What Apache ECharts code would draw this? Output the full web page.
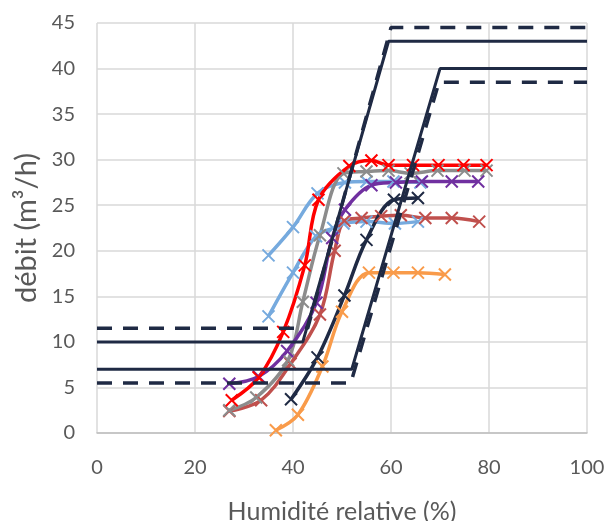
<!DOCTYPE html>
<html><head><meta charset="utf-8">
<script src="https://cdn.jsdelivr.net/npm/echarts@6/dist/echarts.min.js"></script>
<style>html,body{margin:0;padding:0;background:#fff}#c{width:607px;height:521px}</style>
</head><body><div id="c"></div>
<script>
// Axis ticks
const xTicks = [0, 20, 40, 60, 80, 100];
const yTicks = [0, 5, 10, 15, 20, 25, 30, 35, 40, 45];

// Measured series (humidité %, débit m3/h)
const redHum = [27.5, 33, 38, 42.4, 45.2, 51.5, 56, 59.5, 64.5, 69.7, 74.8, 79.5];
const redFlow = [3.6, 6.1, 11.1, 18.4, 25.6, 29.3, 29.9, 29.4, 29.4, 29.4, 29.4, 29.4];

const grayHum = [27, 32.5, 39, 42, 45.5, 50.3, 55, 59.5, 64, 69.5, 75, 79.5];
const grayFlow = [2.5, 3.9, 8, 14.4, 21.7, 28.5, 28.7, 28.8, 28.5, 28.8, 28.8, 28.8];

const brownHum = [27, 33.5, 39.5, 45.5, 48.5, 50.5, 54, 58, 62, 67, 72.4, 78];
const brownFlow = [2.4, 3.6, 7.6, 13, 20, 23.3, 23.6, 23.8, 23.9, 23.6, 23.6, 23.2];

const purpleHum = [27, 33, 38.8, 44.8, 48, 50.6, 56, 61, 66.3, 72.4, 77.8];
const purpleFlow = [5.4, 6.2, 9, 14.3, 21.4, 24.5, 27.2, 27.5, 27.6, 27.6, 27.6];

const blue1Hum = [35, 40, 45, 50.6, 55, 60.5, 66];
const blue1Flow = [19.5, 22.6, 26.3, 27.5, 27.6, 27.6, 27.5];

const blue2Hum = [35, 40, 44.7, 48.2, 50.3, 55, 60.8, 65.5];
const blue2Flow = [12.8, 17.6, 21.6, 22.5, 23, 23.2, 23, 23.2];

const navyHum = [39.6, 45, 50.5, 55, 60.6, 65.5];
const navyFlow = [3.7, 8.3, 15.1, 21.2, 25.6, 25.8];

const orangeHum = [36.5, 41, 46, 50, 55.5, 60.5, 65.5, 71];
const orangeFlow = [0.3, 2, 7.3, 13.3, 17.6, 17.6, 17.6, 17.4];

// Characteristic envelopes
const envAHum = [0, 42, 59.5, 100];
const envAFlow = [10, 10, 43, 43];
const envAtolHum = [0, 43, 60, 100];
const envAtolFlow = [11.5, 11.5, 44.5, 44.5];
const envBHum = [0, 52, 70, 100];
const envBFlow = [7, 7, 40, 40];
const envBtolHum = [0, 51.8, 69.8, 100];
const envBtolFlow = [5.5, 5.5, 38.5, 38.5];

const zip = (a, b) => a.map((v, i) => [v, b[i]]);
const NAVY = '#1f2a44';
const FONT = 'Lato, "Open Sans", sans-serif';
const XSYM = 'path://M0,0L10,10M10,0L0,10';

function meas(name, hum, flow, color) {
  return {
    name, type: 'line', data: zip(hum, flow), smooth: 0.35,
    lineStyle: { color, width: 3.5 },
    symbol: XSYM, symbolSize: 12,
    itemStyle: { color, borderColor: color, borderWidth: 2 },
    z: 2
  };
}
function env(name, hum, flow, dashed) {
  return {
    name, type: 'line', data: zip(hum, flow), smooth: false, symbol: 'none',
    lineStyle: { color: NAVY, width: dashed ? 3.5 : 3, type: dashed ? [15, 11] : 'solid' },
    z: 3
  };
}

const chart = echarts.init(document.getElementById('c'), null, { renderer: 'canvas' });
chart.setOption({
  animation: false,
  textStyle: { fontFamily: FONT },
  grid: { left: 97, right: 20, top: 23, bottom: 88, containLabel: false, outerBoundsMode: 'none' },
  xAxis: {
    type: 'value', min: xTicks[0], max: xTicks[xTicks.length - 1], interval: xTicks[1] - xTicks[0],
    name: 'Humidité relative (%)', nameLocation: 'middle', nameGap: 66,
    nameTextStyle: { fontSize: 25, color: '#595959', fontFamily: FONT },
    axisLine: { show: true, lineStyle: { color: '#bfbfbf', width: 1.5 } },
    axisTick: { show: false },
    axisLabel: { fontSize: 20, color: '#595959', margin: 25, fontFamily: FONT },
    splitLine: { show: true, lineStyle: { color: '#d9d9d9', width: 1.5 } }
  },
  yAxis: {
    type: 'value', min: yTicks[0], max: yTicks[yTicks.length - 1], interval: yTicks[1] - yTicks[0],
    name: 'débit (m³/h)', nameLocation: 'middle', nameGap: 53,
    nameTextStyle: { fontSize: 29, color: '#595959', fontFamily: FONT },
    axisLine: { show: false },
    axisTick: { show: false },
    axisLabel: { fontSize: 20, color: '#595959', margin: 22, fontFamily: FONT },
    splitLine: { show: true, lineStyle: { color: '#d9d9d9', width: 1.5 } }
  },
  series: [
    meas('orange', orangeHum, orangeFlow, '#f99b4a'),
    meas('bleu2', blue2Hum, blue2Flow, '#76aade'),
    meas('bleu1', blue1Hum, blue1Flow, '#76aade'),
    meas('brun', brownHum, brownFlow, '#c0504d'),
    meas('gris', grayHum, grayFlow, '#8c8c8c'),
    meas('violet', purpleHum, purpleFlow, '#7030a0'),
    meas('rouge', redHum, redFlow, '#ff0000'),
    meas('marine', navyHum, navyFlow, NAVY),
    env('A', envAHum, envAFlow, false),
    env('A tol', envAtolHum, envAtolFlow, true),
    env('B', envBHum, envBFlow, false),
    env('B tol', envBtolHum, envBtolFlow, true)
  ]
});
</script>
</body></html>
